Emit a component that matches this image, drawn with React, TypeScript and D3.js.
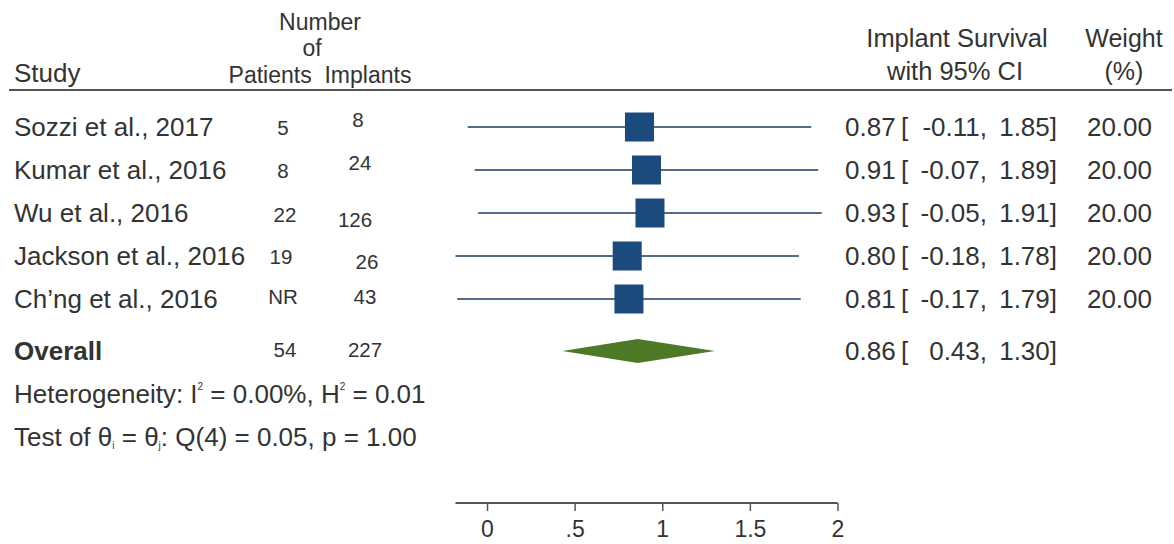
import { useEffect, useRef } from "react";
import * as d3 from "d3";

// study rows
const STUDIES = ["Sozzi et al., 2017", "Kumar et al., 2016", "Wu et al., 2016", "Jackson et al., 2016", "Ch\u2019ng et al., 2016"];
const PATIENTS = ["5", "8", "22", "19", "NR"];
const IMPLANTS = ["8", "24", "126", "26", "43"];
const ESTIMATES = [0.87, 0.91, 0.93, 0.80, 0.81];
const LOWER = [-0.11, -0.07, -0.05, -0.18, -0.17];
const UPPER = [1.85, 1.89, 1.91, 1.78, 1.79];
const WEIGHTS = [20.0, 20.0, 20.0, 20.0, 20.0];

// pooled result
const OVERALL = { patients: "54", implants: "227", est: 0.86, lo: 0.43, hi: 1.30 };

const X_TICKS = [0, 0.5, 1, 1.5, 2];

const W = 1174;
const H = 544;
const FONT = "'Liberation Sans', Arial, sans-serif";
const INK = "#333";
const BODY = 26;

// the numbers in the two count columns are not neatly aligned in the source
const PAT_NUDGE: [number, number][] = [[0, 0], [0, 0], [2, 1], [-2, 0], [0, -3]];
const IMP_NUDGE: [number, number][] = [[-2, -8], [0, -8], [-5, 6], [7, 5], [5, -3]];

const fmt = (v: number) => v.toFixed(2);

export default function App() {
  const svgRef = useRef<SVGSVGElement>(null);

  useEffect(() => {
    document.body.style.margin = "0";
    if (!svgRef.current) return;
    const svg = d3.select(svgRef.current);
    svg.selectAll("*").remove();

    const x = d3.scaleLinear().domain([0, 2]).range([487, 837.5]);
    const y = d3.scaleLinear().domain([0, STUDIES.length - 1]).range([127, 299]);
    const yOverall = 351;

    const g = svg.append("g").attr("font-family", FONT).attr("fill", INK);

    const txt = (tx: number, ty: number, s: string, size: number, anchor = "start") =>
      g.append("text").attr("x", tx).attr("y", ty).attr("font-size", size)
        .attr("text-anchor", anchor).text(s);

    // header
    txt(14, 82, "Study", 26);
    txt(320, 30, "Number", 23, "middle");
    txt(312, 56, "of", 23, "middle");
    txt(320, 83, "Patients  Implants", 23, "middle").style("white-space", "pre");
    txt(957, 47, "Implant Survival", 25.5, "middle");
    txt(955, 80, "with 95% CI", 25.5, "middle");
    txt(1124, 47, "Weight", 25, "middle");
    txt(1124, 80, "(%)", 25, "middle");

    svg.append("line")
      .attr("x1", 9).attr("x2", W - 2).attr("y1", 90).attr("y2", 90)
      .attr("stroke", "#555").attr("stroke-width", 2);

    // study rows
    STUDIES.forEach((name, i) => {
      const cy = y(i);
      txt(14, cy + 9, name, BODY);
      txt(283 + PAT_NUDGE[i][0], cy + 8 + PAT_NUDGE[i][1], PATIENTS[i], 20.5, "middle");
      txt(360 + IMP_NUDGE[i][0], cy + 8 + IMP_NUDGE[i][1], IMPLANTS[i], 20.5, "middle");

      g.append("line")
        .attr("x1", x(LOWER[i])).attr("x2", x(UPPER[i]))
        .attr("y1", cy).attr("y2", cy)
        .attr("stroke", "#526c86").attr("stroke-width", 2);

      const side = 29;
      g.append("rect")
        .attr("x", x(ESTIMATES[i]) - side / 2).attr("y", cy - side / 2)
        .attr("width", side).attr("height", side)
        .attr("fill", "#1b4a7c");

      txt(845, cy + 9, fmt(ESTIMATES[i]), BODY);
      txt(901, cy + 9, "[", BODY);
      txt(987, cy + 9, fmt(LOWER[i]) + ",", BODY, "end");
      txt(1057, cy + 9, fmt(UPPER[i]) + "]", BODY, "end");
      txt(1152, cy + 9, fmt(WEIGHTS[i]), BODY, "end");
    });

    // overall
    txt(14, yOverall + 9, "Overall", BODY).attr("font-weight", "bold");
    txt(285, yOverall + 6, OVERALL.patients, 20.5, "middle");
    txt(365, yOverall + 6, OVERALL.implants, 20.5, "middle");

    const dh = 12;
    const diamond = d3.line<[number, number]>()([
      [x(OVERALL.lo), yOverall],
      [x(OVERALL.est), yOverall - dh],
      [x(OVERALL.hi), yOverall],
      [x(OVERALL.est), yOverall + dh],
    ]);
    g.append("path").attr("d", diamond + "Z").attr("fill", "#4e7a27");

    txt(845, yOverall + 9, fmt(OVERALL.est), BODY);
    txt(901, yOverall + 9, "[", BODY);
    txt(987, yOverall + 9, fmt(OVERALL.lo) + ",", BODY, "end");
    txt(1057, yOverall + 9, fmt(OVERALL.hi) + "]", BODY, "end");

    // heterogeneity notes
    const het = g.append("text").attr("x", 14).attr("y", 403).attr("font-size", BODY);
    het.append("tspan").text("Heterogeneity: I");
    het.append("tspan").attr("font-size", 10).attr("dy", -13).text("2");
    het.append("tspan").attr("dy", 13).text(" = 0.00%, H");
    het.append("tspan").attr("font-size", 10).attr("dy", -13).text("2");
    het.append("tspan").attr("dy", 13).text(" = 0.01");

    const test = g.append("text").attr("x", 14).attr("y", 446).attr("font-size", BODY);
    test.append("tspan").text("Test of \u03b8");
    test.append("tspan").attr("font-size", 10).attr("dy", 3).text("i");
    test.append("tspan").attr("dy", -3).text(" = \u03b8");
    test.append("tspan").attr("font-size", 10).attr("dy", 3).text("j");
    test.append("tspan").attr("dy", -3).text(": Q(4) = 0.05, p = 1.00");

    // x axis
    const axisY = 503;
    const axis = d3.axisBottom(x)
      .tickValues(X_TICKS)
      .tickSize(8)
      .tickPadding(10)
      .tickFormat(d => {
        const v = +d;
        return v > 0 && v < 1 ? String(v).replace(/^0/, "") : String(v);
      });
    const ax = svg.append("g").attr("transform", `translate(0,${axisY})`).call(axis);
    ax.select(".domain").remove();
    ax.selectAll(".tick line").attr("stroke", "#555").attr("stroke-width", 1.5);
    ax.selectAll(".tick text").attr("font-size", 23).attr("font-family", FONT).attr("fill", INK);
    ax.append("line")
      .attr("x1", x(d3.min(LOWER) ?? 0)).attr("x2", x(2))
      .attr("y1", 0).attr("y2", 0)
      .attr("stroke", "#555").attr("stroke-width", 2);
  }, []);

  return <svg ref={svgRef} width={W} height={H} style={{ display: "block", background: "#fff" }} />;
}
